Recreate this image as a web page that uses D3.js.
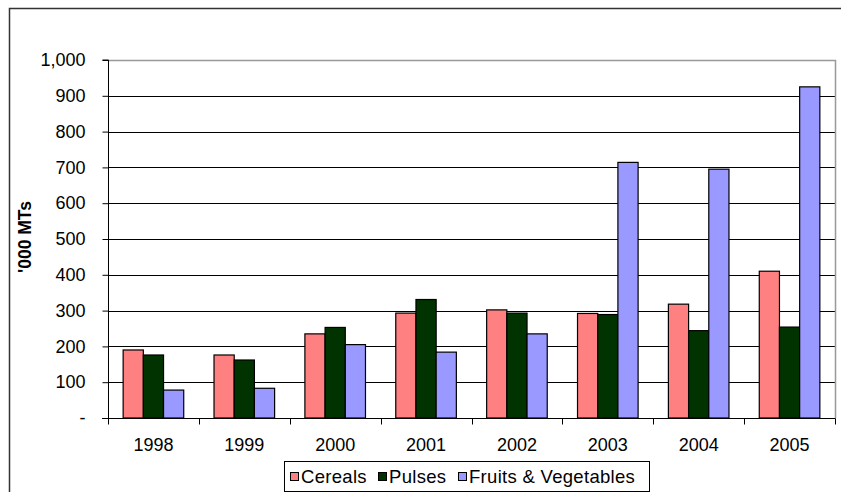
<!DOCTYPE html>
<html lang="en">
<head>
<meta charset="utf-8">
<title>Cereals, Pulses, Fruits & Vegetables</title>
<script src="https://d3js.org/d3.v7.min.js"></script>
<style>
  body { margin: 0; background: #fff; }
  text { font-family: "Liberation Sans", Arial, sans-serif; }
</style>
</head>
<body>
<script>
var years = ["1998", "1999", "2000", "2001", "2002", "2003", "2004", "2005"];
var seriesNames = ["Cereals", "Pulses", "Fruits & Vegetables"];
var cereals = [190, 176, 235, 293, 302, 292, 318, 410];
var pulses = [176, 162, 253, 331, 293, 289, 244, 254];
var fruitsVeg = [78, 83, 205, 184, 235, 714, 695, 925];
var yTicks = [0, 100, 200, 300, 400, 500, 600, 700, 800, 900, 1000];
var colors = ["#ff8080", "#003300", "#9999ff"];

var values = [cereals, pulses, fruitsVeg];

var W = 841, H = 492;
var plot = {left: 108, right: 835, top: 60, bottom: 418};

var svg = d3.select("body").append("svg")
  .attr("width", W)
  .attr("height", H);

// outer chart border (runs off the right/bottom edge)
svg.append("rect")
  .attr("x", 9.5).attr("y", 8.5)
  .attr("width", 860).attr("height", 520)
  .attr("fill", "#fff")
  .attr("stroke", "#333")
  .attr("stroke-width", 1.5);

var x = d3.scaleBand()
  .domain(years)
  .range([plot.left, plot.right])
  .paddingInner(0).paddingOuter(0);

var y = d3.scaleLinear()
  .domain([0, 1000])
  .range([plot.bottom, plot.top]);

// gridlines
svg.append("g")
  .selectAll("line")
  .data(yTicks.filter(function(d){ return d > 0 && d < 1000; }))
  .enter()
  .append("line")
  .attr("x1", plot.left).attr("x2", plot.right)
  .attr("y1", function(d){ return Math.round(y(d)) + 0.5; })
  .attr("y2", function(d){ return Math.round(y(d)) + 0.5; })
  .attr("stroke", "#000")
  .attr("stroke-width", 1);

// plot area border top/right in gray
svg.append("path")
  .attr("d", "M" + plot.left + "," + (plot.top + 0.5) + "H" + (plot.right + 0.5) + "V" + plot.bottom)
  .attr("fill", "none")
  .attr("stroke", "#999")
  .attr("stroke-width", 1.5);

// bars
var bw = x.bandwidth() / 4.5;
values.forEach(function(vals, s){
  svg.append("g")
    .selectAll("rect")
    .data(vals)
    .enter()
    .append("rect")
    .attr("x", function(d, i){ return x(years[i]) + 0.75 * bw + s * bw; })
    .attr("y", function(d){ return y(d); })
    .attr("width", bw)
    .attr("height", function(d){ return y(0) - y(d); })
    .attr("fill", colors[s])
    .attr("stroke", "#000")
    .attr("stroke-width", 1.2);
});

// y axis
var yAxis = d3.axisLeft(y)
  .tickValues(yTicks)
  .tickSize(6)
  .tickPadding(17)
  .tickFormat(function(d){ return d === 0 ? "-" : d3.format(",")(d); });

var gy = svg.append("g")
  .attr("transform", "translate(" + (plot.left + 0.5) + ",0)")
  .call(yAxis);
gy.select(".domain").attr("d", "M-6," + plot.top + "H0V" + (plot.bottom + 0.5)).attr("stroke", "#000");
gy.selectAll(".tick line").attr("stroke", "#000");
gy.selectAll("text")
  .style("font-size", "18px")
  .attr("fill", "#000");

// x axis
var gx = svg.append("g")
  .attr("transform", "translate(0," + (plot.bottom + 0.5) + ")");
gx.append("line")
  .attr("x1", plot.left - 6).attr("x2", plot.right + 0.5)
  .attr("stroke", "#000");
gx.selectAll(".xtick")
  .data(years.concat(["end"]))
  .enter()
  .append("line")
  .attr("class", "xtick")
  .attr("x1", function(d, i){ return Math.round(plot.left + i * x.step()) + 0.5; })
  .attr("x2", function(d, i){ return Math.round(plot.left + i * x.step()) + 0.5; })
  .attr("y1", 0).attr("y2", 6)
  .attr("stroke", "#000");
gx.selectAll(".xlab")
  .data(years)
  .enter()
  .append("text")
  .attr("class", "xlab")
  .attr("x", function(d){ return x(d) + x.bandwidth() / 2; })
  .attr("y", 32.5)
  .attr("text-anchor", "middle")
  .style("font-size", "18px")
  .text(function(d){ return d; });

// y title
svg.append("text")
  .attr("transform", "translate(31,237) rotate(-90)")
  .attr("text-anchor", "middle")
  .style("font-size", "17.5px")
  .style("font-weight", "bold")
  .text("'000 MTs");

// legend
var lg = svg.append("g");
lg.append("rect")
  .attr("x", 284.5).attr("y", 461.5)
  .attr("width", 365).attr("height", 30)
  .attr("fill", "#fff")
  .attr("stroke", "#000")
  .attr("stroke-width", 1);

var legendX = [290, 378, 458];
seriesNames.forEach(function(name, s){
  lg.append("rect")
    .attr("x", legendX[s] + 0.5).attr("y", 472.5)
    .attr("width", 8).attr("height", 8)
    .attr("fill", colors[s])
    .attr("stroke", "#000")
    .attr("stroke-width", 1);
  lg.append("text")
    .attr("x", legendX[s] + 11)
    .attr("y", 483)
    .style("font-size", "18.5px")
    .style("letter-spacing", "0.3px")
    .text(name);
});
</script>
</body>
</html>
